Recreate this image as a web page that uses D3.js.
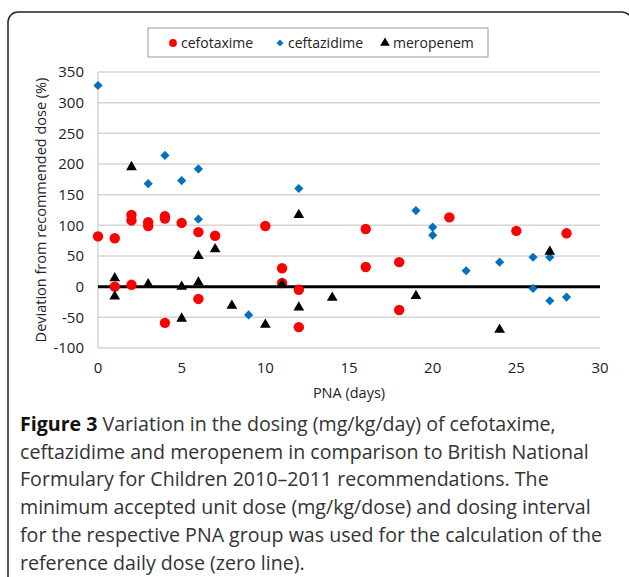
<!DOCTYPE html>
<html>
<head>
<meta charset="utf-8">
<script src="https://cdn.jsdelivr.net/npm/d3@7"></script>
<style>
  body { margin: 0; background: #fff; }
  svg { display: block; font-family: "Open Sans", sans-serif; }
</style>
</head>
<body>
<svg id="chart" width="629" height="577"></svg>
<script>
// values: [PNA days, deviation %]
var cefotaxime = [[0, 82], [1, 79], [1, 0], [2, 117], [2, 108], [2, 3], [3, 105], [3, 99], [4, 115], [4, 111], [4, -59],
    [5, 104], [6, 89], [6, -20], [7, 83], [10, 99], [11, 30], [11, 6], [12, -5], [12, -66], [16, 94], [16, 32],
    [18, 40], [18, -38], [21, 113], [25, 91], [28, 87]];
var ceftazidime = [[0, 328], [3, 168], [4, 214], [5, 173], [6, 192], [6, 110], [9, -46], [12, 160], [19, 124],
    [20, 97], [20, 84], [22, 26], [24, 40], [26, 48], [26, -3], [27, 48], [27, -23], [28, -17]];
var meropenem = [[1, 14], [1, -16], [2, 195], [3, 4], [5, 0], [5, -52], [6, 50], [6, 7], [7, 61], [8, -31],
    [10, -62], [11, 3], [12, 117], [12, -34], [14, -18], [19, -15], [24, -70], [27, 57]];

var xTicks = [0, 5, 10, 15, 20, 25, 30];
var yTicks = [-100, -50, 0, 50, 100, 150, 200, 250, 300, 350];

var captionLines = [
    "Variation in the dosing (mg/kg/day) of cefotaxime,",
    "ceftazidime and meropenem in comparison to British National",
    "Formulary for Children 2010\u20132011 recommendations. The",
    "minimum accepted unit dose (mg/kg/dose) and dosing interval",
    "for the respective PNA group was used for the calculation of the",
    "reference daily dose (zero line)."
];

var svg = d3.select("#chart");

// outer frame (runs past the right and bottom edges)
svg.append("rect")
    .attr("x", 8).attr("y", 12)
    .attr("width", 624).attr("height", 580)
    .attr("rx", 10)
    .attr("fill", "none")
    .attr("stroke", "#222")
    .attr("stroke-width", 1.5);

var plot = { left: 98, right: 600, top: 72, bottom: 348 };

var x = d3.scaleLinear().domain([0, 30]).range([plot.left, plot.right]);
var y = d3.scaleLinear().domain([-100, 350]).range([plot.bottom, plot.top]);

// gridlines
svg.append("g")
    .selectAll("line")
    .data(yTicks)
    .enter().append("line")
    .attr("x1", plot.left).attr("x2", plot.right)
    .attr("y1", function (d) { return y(d); })
    .attr("y2", function (d) { return y(d); })
    .attr("stroke", "#d4d4d4")
    .attr("stroke-width", 1.5);

// left axis line
svg.append("line")
    .attr("x1", plot.left).attr("x2", plot.left)
    .attr("y1", plot.top).attr("y2", plot.bottom)
    .attr("stroke", "#d4d4d4")
    .attr("stroke-width", 1.5);

// zero line
svg.append("line")
    .attr("x1", plot.left).attr("x2", plot.right)
    .attr("y1", y(0)).attr("y2", y(0))
    .attr("stroke", "#000")
    .attr("stroke-width", 3);

// y tick labels
svg.append("g")
    .selectAll("text")
    .data(yTicks)
    .enter().append("text")
    .attr("x", plot.left - 14)
    .attr("y", function (d) { return y(d); })
    .attr("dy", "0.35em")
    .attr("text-anchor", "end")
    .attr("font-size", 15)
    .attr("fill", "#222")
    .text(function (d) { return d; });

// x tick labels
svg.append("g")
    .selectAll("text")
    .data(xTicks)
    .enter().append("text")
    .attr("x", function (d) { return x(d); })
    .attr("y", plot.bottom + 25)
    .attr("text-anchor", "middle")
    .attr("font-size", 15)
    .attr("fill", "#222")
    .text(function (d) { return d; });

svg.append("text")
    .attr("x", (plot.left + plot.right) / 2)
    .attr("y", 398)
    .attr("text-anchor", "middle")
    .attr("font-size", 14.5)
    .attr("fill", "#222")
    .text("PNA (days)");

svg.append("text")
    .attr("transform", "translate(46," + ((plot.top + plot.bottom) / 2) + ") rotate(-90)")
    .attr("text-anchor", "middle")
    .attr("font-size", 14.5)
    .attr("fill", "#222")
    .text("Deviation from recommended dose (%)");

// markers
var sym = {
    circle: d3.symbol().type(d3.symbolCircle).size(85),
    diamond: d3.symbol().type(d3.symbolSquare).size(42),
    triangle: d3.symbol().type(d3.symbolTriangle).size(50)
};

function drawSeries(data, shape, color, rot) {
    svg.append("g")
        .selectAll("path")
        .data(data)
        .enter().append("path")
        .attr("d", sym[shape])
        .attr("fill", color)
        .attr("transform", function (d) {
            return "translate(" + x(d[0]) + "," + y(d[1]) + ")" + (rot ? " rotate(45)" : "");
        });
}
drawSeries(cefotaxime, "circle", "#ff0000", false);
drawSeries(ceftazidime, "diamond", "#0070c0", true);
drawSeries(meropenem, "triangle", "#000", false);

// legend
svg.append("rect")
    .attr("x", 148).attr("y", 28)
    .attr("width", 340).attr("height", 29)
    .attr("fill", "#fff")
    .attr("stroke", "#999")
    .attr("stroke-width", 1);

var legendItems = [
    { name: "cefotaxime", shape: "circle", color: "#ff0000", x: 173, scale: 0.75, rot: false },
    { name: "ceftazidime", shape: "diamond", color: "#0070c0", x: 280, scale: 0.75, rot: true },
    { name: "meropenem", shape: "triangle", color: "#000", x: 385, scale: 0.9, rot: false }
];

var tags = svg.append("g")
    .selectAll("g")
    .data(legendItems)
    .enter().append("g")
    .attr("transform", function (d) { return "translate(" + d.x + ",43)"; });

tags.append("path")
    .attr("d", function (d) { return sym[d.shape](); })
    .attr("fill", function (d) { return d.color; })
    .attr("transform", function (d) { return "scale(" + d.scale + ")" + (d.rot ? " rotate(45)" : ""); });

tags.append("text")
    .attr("x", 8)
    .attr("dy", "0.35em")
    .attr("font-size", 14)
    .attr("fill", "#222")
    .text(function (d) { return d.name; });

// caption
var cap = svg.append("g").attr("fill", "#333").attr("font-size", 19.6);

cap.selectAll("text")
    .data(captionLines)
    .enter().append("text")
    .attr("x", 20)
    .attr("y", function (d, i) { return 431 + i * 27.7; })
    .each(function (d, i) {
        var t = d3.select(this);
        if (i === 0) {
            t.append("tspan").attr("font-weight", "bold").attr("fill", "#111").text("Figure 3 ");
        }
        t.append("tspan").text(d);
    });
</script>
</body>
</html>
